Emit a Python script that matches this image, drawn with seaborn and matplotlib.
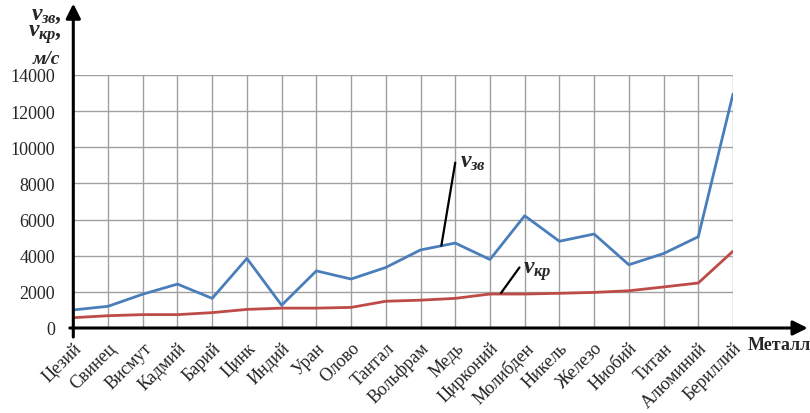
import matplotlib
matplotlib.use("Agg")
import matplotlib.pyplot as plt
import seaborn as sns
import pandas as pd

metals = ["Цезий", "Свинец", "Висмут", "Кадмий", "Барий", "Цинк", "Индий", "Уран",
          "Олово", "Тантал", "Вольфрам", "Медь", "Цирконий", "Молибден", "Никель",
          "Железо", "Ниобий", "Титан", "Алюминий", "Бериллий"]
v_sound = [1000, 1200, 1870, 2430, 1640, 3850, 1260, 3160, 2710, 3350, 4320, 4700,
           3790, 6210, 4800, 5200, 3500, 4120, 5050, 12950]
v_crit = [570, 680, 740, 740, 850, 1030, 1100, 1100, 1140, 1480, 1540, 1640,
          1880, 1880, 1920, 1970, 2060, 2270, 2490, 4250]
y_ticks = [0, 2000, 4000, 6000, 8000, 10000, 12000, 14000]

sns.set_style("white")
plt.rcParams["font.family"] = ["Liberation Serif", "DejaVu Serif"]
plt.rcParams["mathtext.fontset"] = "custom"
plt.rcParams["mathtext.rm"] = "Liberation Serif:bold:italic"
plt.rcParams["mathtext.it"] = "Liberation Serif:bold:italic"
plt.rcParams["mathtext.bf"] = "Liberation Serif:bold:italic"

fig = plt.figure(figsize=(8.1, 4.14), dpi=100)
W, H = 810, 414
x0, x1, y0, y1 = 73.3, 733, 329, 76
ax = fig.add_axes([x0 / W, 1 - y0 / H, (x1 - x0) / W, (y0 - y1) / H])

idx = list(range(len(metals)))
df = pd.DataFrame({"pos": idx * 2,
                   "v": v_sound + v_crit,
                   "series": ["зв"] * len(idx) + ["кр"] * len(idx)})
sns.lineplot(data=df, x="pos", y="v", hue="series",
             palette={"зв": "#4A7EBB", "кр": "#BE4B48"},
             linewidth=2.0, legend=False, ax=ax, zorder=3)

ax.set_xlim(0, len(metals) - 1)
ax.set_ylim(0, 14000)
ax.set_xticks(idx)
ax.set_xticklabels(metals, rotation=45, ha="right", rotation_mode="anchor", fontsize=13)
ax.set_yticks(y_ticks)
ax.set_yticklabels([str(t) for t in y_ticks], fontsize=13)
ax.set_xlabel("")
ax.set_ylabel("")
ax.grid(True, color="#a0a0a0", linewidth=1.0)
for s in ax.spines.values():
    s.set_visible(False)
ax.tick_params(axis="both", which="both", length=6, width=1, color="#a0a0a0",
               direction="out")
ax.tick_params(axis="y", pad=7)
ax.tick_params(axis="x", pad=2)

# axes with arrow heads
ax.annotate("", xy=(21.15, 0), xytext=(-0.1, 0), xycoords="data",
            arrowprops=dict(arrowstyle="-|>", color="black", lw=2.2,
                            mutation_scale=22, shrinkA=0, shrinkB=0),
            annotation_clip=False, zorder=5)
ax.annotate("", xy=(0, 17950), xytext=(0, -500), xycoords="data",
            arrowprops=dict(arrowstyle="-|>", color="black", lw=2.2,
                            mutation_scale=22, shrinkA=0, shrinkB=0),
            annotation_clip=False, zorder=5)

# axis titles
fig.text(748 / W, 1 - 346 / H, "Металл", fontsize=13, fontweight="bold",
         ha="left", va="center")
fig.text(62 / W, 1 - 15 / H, r"$v_{зв},$", fontsize=17, ha="right", va="center")
fig.text(62 / W, 1 - 35 / H, r"$v_{кр},$", fontsize=17, ha="right", va="center")
fig.text(60 / W, 1 - 60 / H, "м/с", fontsize=14, fontweight="bold", style="italic",
         ha="right", va="center")

# series callouts
ax.plot([10.6, 11.0], [4550, 9150], color="black", lw=1.6, zorder=4)
ax.text(11.15, 9200, r"$v_{зв}$", fontsize=17, ha="left", va="center", zorder=4)
ax.plot([12.32, 12.85], [1940, 3350], color="black", lw=1.6, zorder=4)
ax.text(12.95, 3200, r"$v_{кр}$", fontsize=17, ha="left", va="center", zorder=4)

fig.savefig("out.png", dpi=100, facecolor="white")
